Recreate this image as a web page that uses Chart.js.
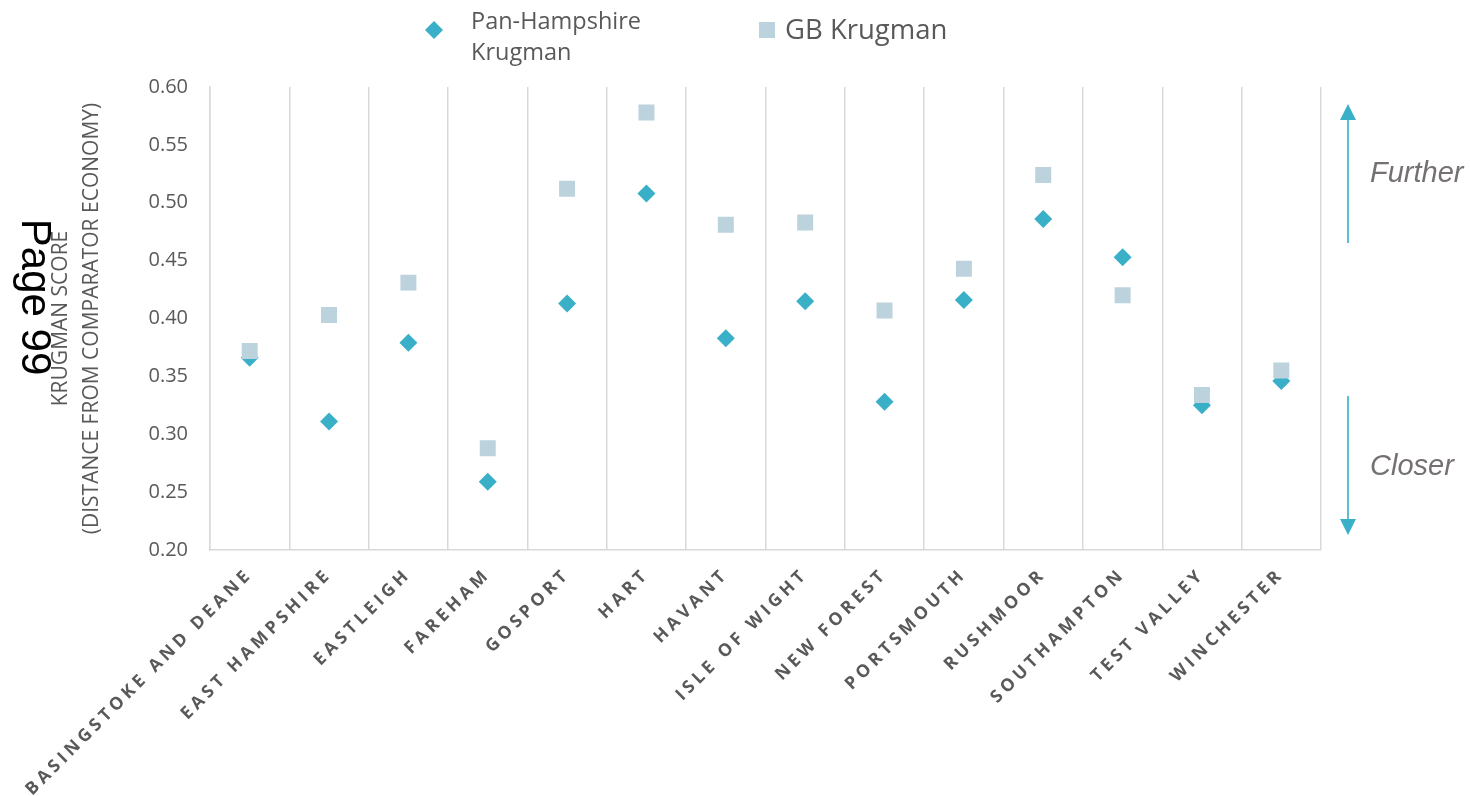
<!DOCTYPE html>
<html>
<head>
<meta charset="utf-8">
<script src="https://cdn.jsdelivr.net/npm/chart.js@4.4.1/dist/chart.umd.min.js"></script>
<style>
  html, body { margin: 0; padding: 0; background: #ffffff; }
  #wrap { width: 1470px; height: 796px; position: relative; }
</style>
</head>
<body>
<div id="wrap"><canvas id="c" width="1470" height="796"></canvas></div>
<script>
// Local authority districts on the horizontal axis
const districts = [
  'BASINGSTOKE AND DEANE', 'EAST HAMPSHIRE', 'EASTLEIGH', 'FAREHAM', 'GOSPORT',
  'HART', 'HAVANT', 'ISLE OF WIGHT', 'NEW FOREST', 'PORTSMOUTH',
  'RUSHMOOR', 'SOUTHAMPTON', 'TEST VALLEY', 'WINCHESTER'
];

// Krugman specialisation index against the Pan-Hampshire economy
const panHampshireKrugman = [0.366, 0.311, 0.379, 0.259, 0.413, 0.508, 0.383,
                             0.415, 0.328, 0.416, 0.486, 0.453, 0.325, 0.346];

// Krugman specialisation index against the GB economy
const gbKrugman = [0.372, 0.403, 0.431, 0.288, 0.512, 0.578, 0.481,
                   0.483, 0.407, 0.443, 0.524, 0.420, 0.334, 0.355];

// Vertical axis range and step
const yMin = 0.20;
const yMax = 0.60;
const yStep = 0.05;

const seriesNames = ['Pan-Hampshire Krugman', 'GB Krugman'];
const legendLines = [['Pan-Hampshire', 'Krugman'], ['GB Krugman']];
const yTitle = ['KRUGMAN SCORE', '(DISTANCE FROM COMPARATOR ECONOMY)'];

const TEAL = '#3AB0C8';
const PALE = '#BCD2DC';
const TEXT = '#595959';
const GRID = '#D9D9D9';

function diamond(ctx, x, y, r, color) {
  ctx.beginPath();
  ctx.moveTo(x - r, y);
  ctx.lineTo(x, y - r);
  ctx.lineTo(x + r, y);
  ctx.lineTo(x, y + r);
  ctx.closePath();
  ctx.fillStyle = color;
  ctx.fill();
}

// Legend at the top, page marker on the left and the direction arrows on the right
const decorations = {
  id: 'decorations',
  afterDraw(chart) {
    const ctx = chart.ctx;
    const area = chart.chartArea;
    ctx.save();

    // legend
    diamond(ctx, 434, 30, 9, TEAL);
    ctx.fillStyle = TEXT;
    ctx.textBaseline = 'middle';
    ctx.textAlign = 'left';
    ctx.font = '23.5px "Open Sans"';
    ctx.fillText(legendLines[0][0], 471, 22);
    ctx.fillText(legendLines[0][1], 471, 53);
    ctx.fillStyle = PALE;
    ctx.fillRect(759, 22, 16, 16);
    ctx.fillStyle = TEXT;
    ctx.font = '27.5px "Open Sans"';
    ctx.fillText(legendLines[1][0], 785, 31);

    // page marker
    ctx.save();
    ctx.translate(34, 297);
    ctx.rotate(Math.PI / 2);
    ctx.fillStyle = '#000000';
    ctx.font = '42px "Liberation Sans"';
    ctx.textAlign = 'center';
    ctx.textBaseline = 'middle';
    ctx.fillText('Page 99', 0, 0);
    ctx.restore();

    // direction arrows
    const ax = area.right + 27;
    ctx.strokeStyle = '#5BC0D4';
    ctx.lineWidth = 2;
    ctx.beginPath();
    ctx.moveTo(ax, area.top + 156);
    ctx.lineTo(ax, area.top + 30);
    ctx.moveTo(ax, area.top + 309);
    ctx.lineTo(ax, area.bottom - 28);
    ctx.stroke();
    ctx.fillStyle = TEAL;
    ctx.beginPath();
    ctx.moveTo(ax, area.top + 17);
    ctx.lineTo(ax - 8, area.top + 33);
    ctx.lineTo(ax + 8, area.top + 33);
    ctx.closePath();
    ctx.fill();
    ctx.beginPath();
    ctx.moveTo(ax, area.bottom - 15);
    ctx.lineTo(ax - 8, area.bottom - 31);
    ctx.lineTo(ax + 8, area.bottom - 31);
    ctx.closePath();
    ctx.fill();

    ctx.fillStyle = '#767171';
    ctx.font = 'italic 29px "Liberation Sans"';
    ctx.textAlign = 'left';
    ctx.textBaseline = 'middle';
    ctx.fillText('Further', ax + 22, area.top + 87);
    ctx.fillText('Closer', ax + 22, area.top + 380);

    ctx.restore();
  }
};

// spaced-out lettering for the district names
const spacedLabels = {
  id: 'spacedLabels',
  afterLayout(chart) {
    const sc = chart.scales.x;
    if (sc.__spaced) return;
    const orig = sc.drawLabels.bind(sc);
    sc.drawLabels = function (area) {
      const ctx = this.ctx;
      ctx.save();
      ctx.letterSpacing = '4px';
      orig(area);
      ctx.restore();
    };
    sc.__spaced = true;
  }
};

new Chart(document.getElementById('c'), {
  type: 'line',
  data: {
    labels: districts,
    datasets: [
      {
        label: seriesNames[0],
        data: panHampshireKrugman,
        showLine: false,
        pointStyle: 'rectRot',
        pointRadius: 9,
        pointHoverRadius: 9,
        pointBackgroundColor: TEAL,
        pointBorderWidth: 0,
        borderColor: TEAL,
        order: 2
      },
      {
        label: seriesNames[1],
        data: gbKrugman,
        showLine: false,
        pointStyle: 'rect',
        pointRadius: 11.3,
        pointHoverRadius: 11.3,
        pointBackgroundColor: PALE,
        pointBorderWidth: 0,
        borderColor: PALE,
        order: 1
      }
    ]
  },
  options: {
    responsive: false,
    animation: false,
    devicePixelRatio: 1,
    layout: { padding: { top: 87, right: 149, bottom: 0, left: 0 } },
    plugins: {
      legend: { display: false },
      tooltip: { enabled: false }
    },
    scales: {
      x: {
        type: 'category',
        offset: true,
        grid: { display: true, offset: true, color: GRID, lineWidth: 1.5, drawTicks: false },
        border: { display: true, color: GRID, width: 1.5 },
        ticks: {
          autoSkip: false,
          maxRotation: 45,
          minRotation: 45,
          padding: 14,
          color: TEXT,
          font: { family: 'Open Sans', size: 17.5, weight: 'bold' }
        },
        afterFit(scale) { scale.height = 246; }
      },
      y: {
        min: yMin,
        max: yMax,
        grid: { display: false, drawTicks: false },
        border: { display: true, color: GRID, width: 1.5 },
        ticks: {
          stepSize: yStep,
          padding: 22,
          color: TEXT,
          font: { family: 'Open Sans', size: 20 },
          callback: v => Number(v).toFixed(2)
        },
        title: {
          display: true,
          text: yTitle,
          color: TEXT,
          font: { family: 'Open Sans', size: 21, lineHeight: 1.476 },
          padding: { top: 45.5, bottom: 0 }
        },
        afterFit(scale) { scale.width = 210; }
      }
    }
  },
  plugins: [spacedLabels, decorations]
});
</script>
</body>
</html>
